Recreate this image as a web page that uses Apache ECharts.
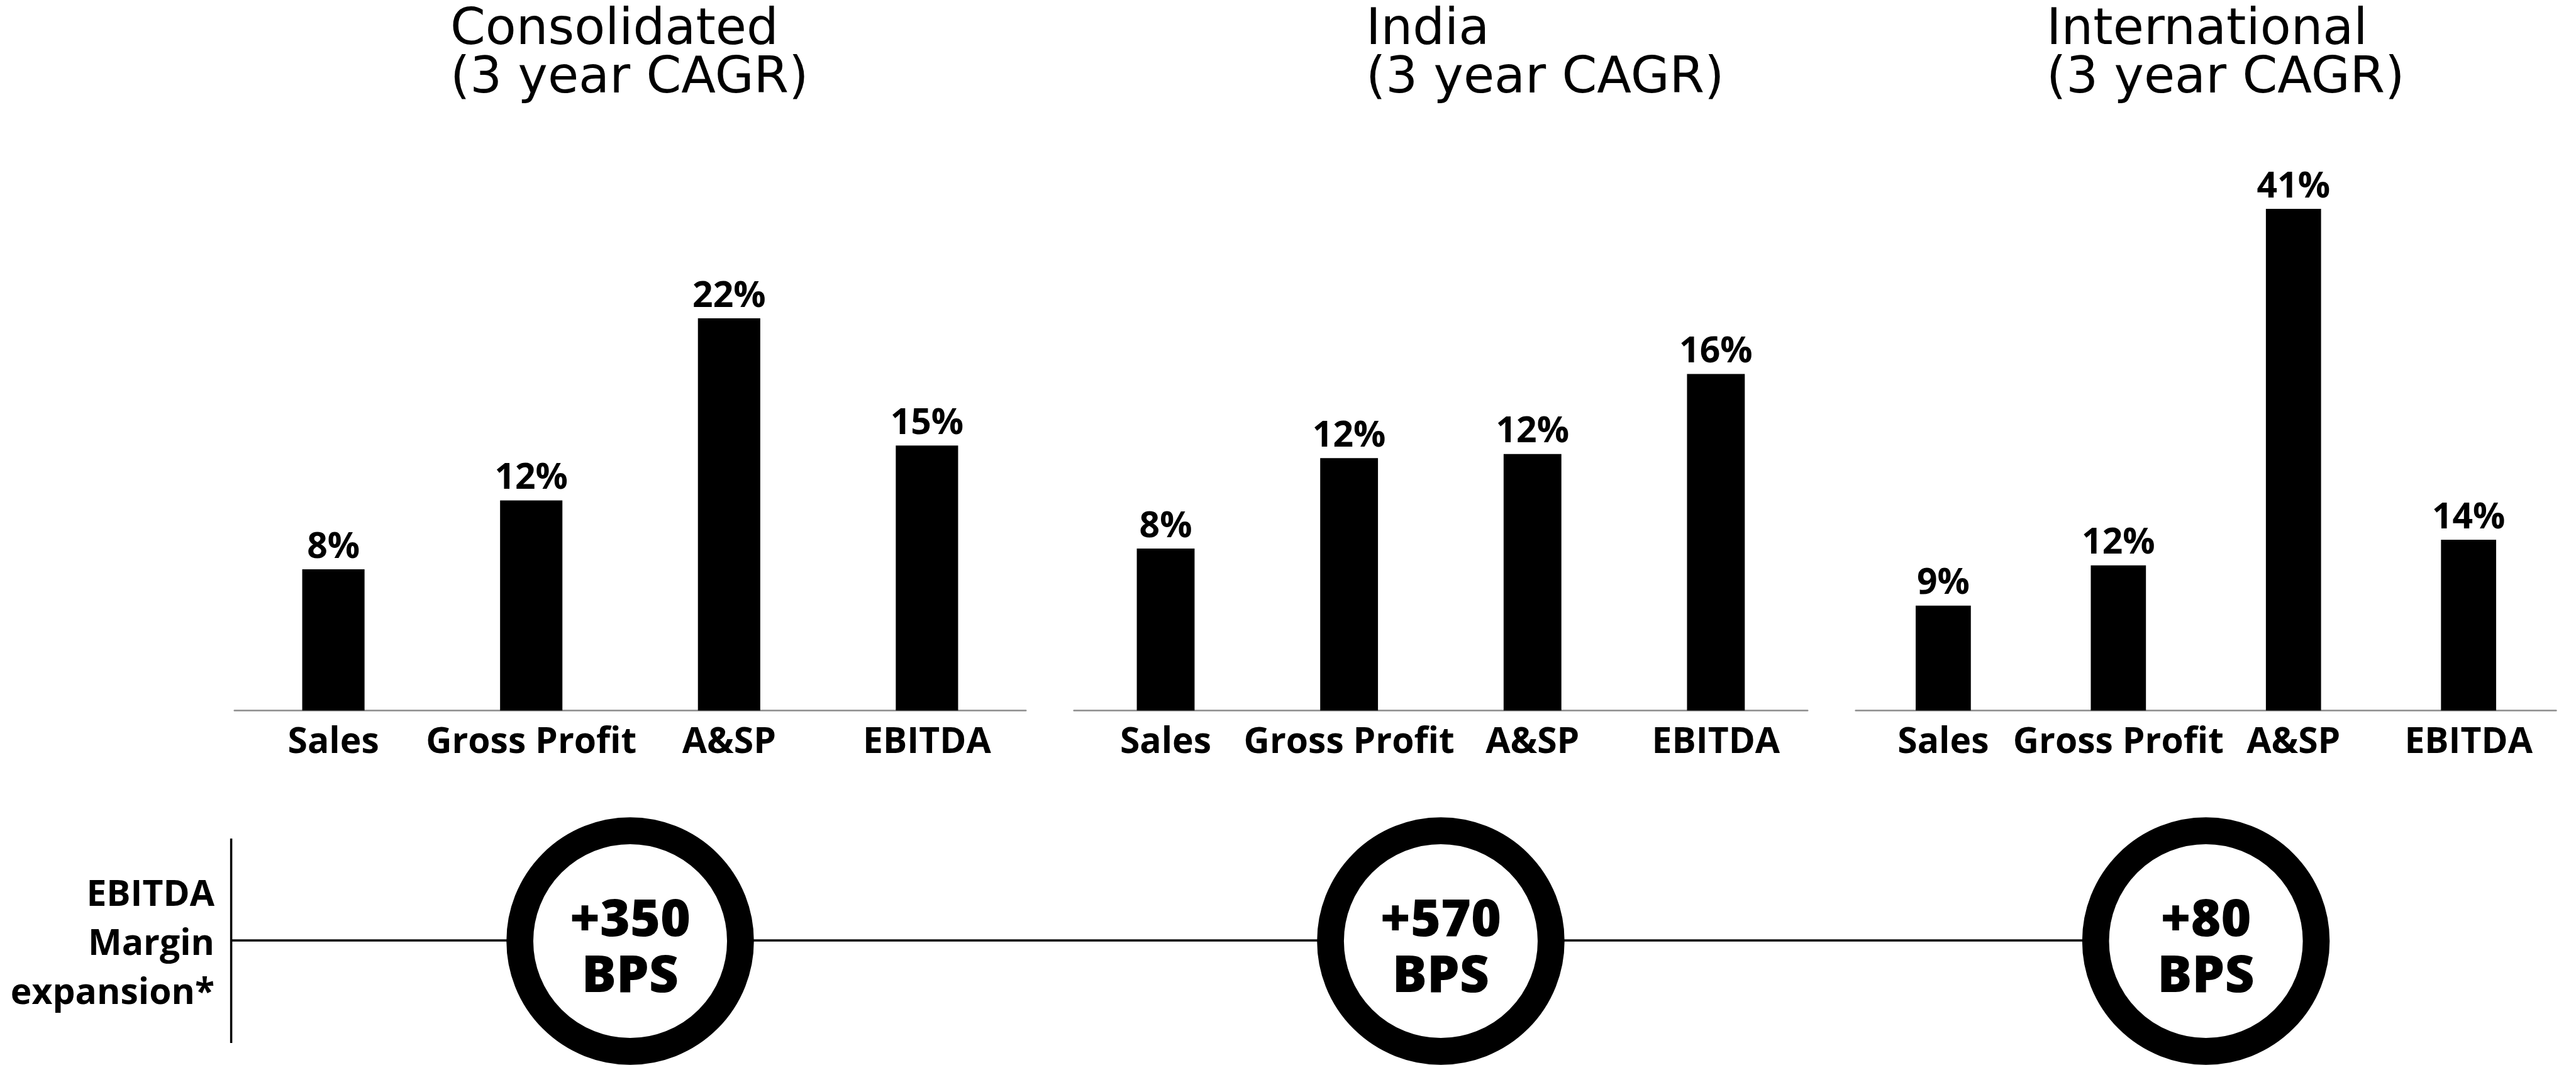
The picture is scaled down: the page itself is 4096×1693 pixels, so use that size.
<!DOCTYPE html>
<html>
<head>
<meta charset="utf-8">
<script src="https://cdn.jsdelivr.net/npm/echarts@6/dist/echarts.min.js"></script>
<style>
  html, body { margin: 0; padding: 0; background: #fff; }
  #chart { width: 4096px; height: 1693px; }
</style>
</head>
<body>
<div id="chart"></div>
<script>
// data
var categories = ['Sales', 'Gross Profit', 'A&SP', 'EBITDA'];
var segments = ['Consolidated', 'India', 'International'];
var subTitle = '(3 year CAGR)';
var consolidatedCagr = [8.0, 11.9, 22.2, 15.0];
var indiaCagr = [7.7, 12.0, 12.2, 16.0];
var internationalCagr = [8.6, 11.9, 41.1, 14.0];
var marginBps = [350, 570, 80];
var marginLabel = ['EBITDA', 'Margin', 'expansion*'];

// layout
var W = 4096, H = 1693;
var gridTop = 200, gridBottom = 563.4;
var grids = [
    {left: 372.8, width: 1258.4},
    {left: 1707.7, width: 1166.5},
    {left: 2950.7, width: 1113.7}
];
var yMax = [33.1, 27.8, 47.9];
var titleX = [716, 2172, 3254];
var ringY = 1496, ringR = 175.4, ringW = 42.7;
var boldFont = '"Open Sans", "Noto Sans", sans-serif';

var seriesData = [consolidatedCagr, indiaCagr, internationalCagr];

var option = {
    backgroundColor: '#fff',
    animation: false,
    grid: grids.map(function (g) {
        return {left: g.left, width: g.width, top: gridTop, bottom: gridBottom, containLabel: false};
    }),
    xAxis: grids.map(function (g, i) {
        return {
            type: 'category', gridIndex: i, data: categories,
            axisLine: {lineStyle: {color: '#8c8c8c', width: 2.6}},
            axisTick: {show: false},
            axisLabel: {
                color: '#000', fontFamily: boldFont, fontWeight: 'bold', fontSize: 57,
                margin: 23, interval: 0
            }
        };
    }),
    yAxis: grids.map(function (g, i) {
        return {type: 'value', gridIndex: i, min: 0, max: yMax[i], show: false, splitLine: {show: false}};
    }),
    series: seriesData.map(function (d, i) {
        return {
            type: 'bar', name: segments[i], xAxisIndex: i, yAxisIndex: i,
            data: d, barWidth: '31.5%',
            itemStyle: {color: '#000'},
            label: {
                show: true, position: 'top', distance: 6,
                color: '#000', fontFamily: boldFont, fontWeight: 'bold', fontSize: 57,
                formatter: function (p) { return Math.round(p.value) + '%'; }
            }
        };
    }),
    graphic: []
};

var gr = option.graphic;
segments.forEach(function (s, i) {
    gr.push({
        type: 'text', x: titleX[i], y: 11,
        style: {
            text: s + '\n' + subTitle, fill: '#000',
            fontFamily: '"DejaVu Sans", sans-serif', fontSize: 80, fontWeight: 'normal',
            lineHeight: 77, verticalAlign: 'top', align: 'left'
        }
    });
});

// bottom: margin expansion row
var lineX = 367.6;
var lastCx = grids[2].left + grids[2].width / 2;
gr.push({
    type: 'line', z: 1,
    shape: {x1: lineX, y1: 1333, x2: lineX, y2: 1658},
    style: {stroke: '#000', lineWidth: 3.5}
});
gr.push({
    type: 'line', z: 1,
    shape: {x1: lineX, y1: 1495, x2: lastCx - ringR, y2: 1495},
    style: {stroke: '#000', lineWidth: 3.5}
});
gr.push({
    type: 'text', x: 341, y: 1502,
    style: {
        text: marginLabel.join('\n'), fill: '#000', align: 'right', verticalAlign: 'middle',
        fontFamily: boldFont, fontWeight: 'bold', fontSize: 57, lineHeight: 78
    }
});
marginBps.forEach(function (v, i) {
    var cx = grids[i].left + grids[i].width / 2;
    gr.push({
        type: 'circle', z: 5,
        shape: {cx: cx, cy: ringY, r: ringR},
        style: {fill: '#fff', stroke: '#000', lineWidth: ringW}
    });
    gr.push({
        type: 'text', z: 6, x: cx, y: 1509,
        style: {
            text: '+' + v + '\nBPS', fill: '#000', align: 'center', verticalAlign: 'middle',
            fontFamily: boldFont, fontWeight: 800, fontSize: 82, lineHeight: 89
        }
    });
});

var chart = echarts.init(document.getElementById('chart'), null, {renderer: 'canvas', width: W, height: H});
chart.setOption(option);
</script>
</body>
</html>
